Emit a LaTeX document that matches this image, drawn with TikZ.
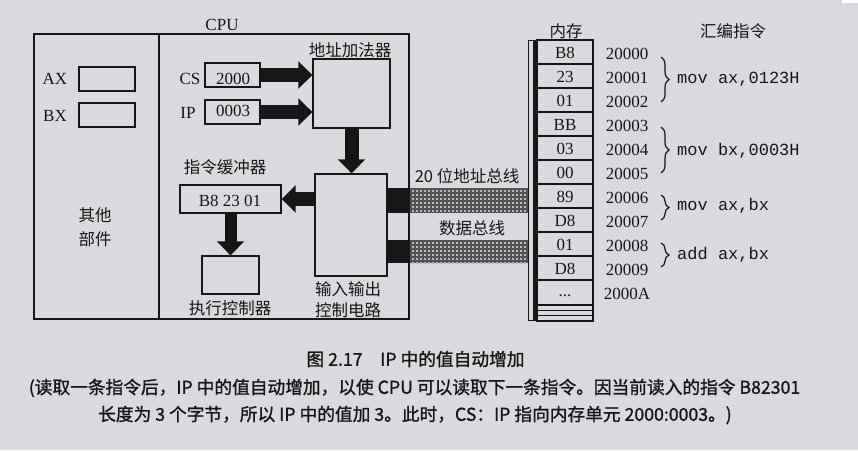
\documentclass[tikz,border=0pt]{standalone}
\usepackage{fontspec}
\setmainfont{Liberation Serif}
\newfontfamily\cjk{Noto Sans CJK SC}
\newfontfamily\capfont[FakeBold=1.2]{Noto Sans CJK SC}
\newfontfamily\monof{Liberation Mono}
\usetikzlibrary{arrows.meta,decorations.pathreplacing}
\definecolor{bg}{RGB}{216,218,221}
\definecolor{ink}{RGB}{22,22,22}
\begin{document}
\begin{tikzpicture}[x=1pt,y=-1pt,
  lat/.style={font=\fontsize{17}{20}\selectfont, inner sep=0pt, text=ink},
  zh/.style={font=\cjk\fontsize{16.5}{20}\selectfont, inner sep=0pt, text=ink},
  mono/.style={font=\monof\fontsize{17}{20}\selectfont, inner sep=0pt, anchor=west, text=ink},
  captxt/.style={font=\capfont\fontsize{17.7}{20}\selectfont, inner sep=0pt, text=ink},
  box/.style={draw=ink, line width=1.4pt, inner sep=0pt},
  blk/.style={draw=ink, line width=14pt, -{Triangle[width=27pt,length=14pt]}},
  cell/.style={draw=ink, line width=1.1pt, minimum width=56pt, minimum height=24pt, inner sep=0pt},
  busdot/.style={fill=gray!55},
  brc/.style={draw=ink, line width=1.2pt, decorate, decoration={brace, amplitude=8pt}}
]
\useasboundingbox (0,0) rectangle (858,450);
\fill[bg] (0,0) rectangle (858,450);
\fill[white] (842,0) rectangle (858,3);

% CPU outer box
\node[box, line width=1.5pt, minimum width=375pt, minimum height=285pt] (cpu) at (221.5,176.5) {};
\draw[ink, line width=1.3pt] (159,34) -- (159,319);
\node[lat] (cpulbl) at (222,25) {CPU};

% other parts
\node[lat] (axl) at (55,79) {AX};
\node[box, minimum width=56pt, minimum height=24pt] (ax) at (107,79) {};
\node[lat] (bxl) at (55,116) {BX};
\node[box, minimum width=56pt, minimum height=24pt] (bx) at (107,115) {};
\node[zh] (qt1) at (95,215) {其他};
\node[zh] (qt2) at (95,239) {部件};

% CS / IP
\node[lat] (csl) at (190,79) {CS};
\node[box, minimum width=55pt, minimum height=24pt] (cs) at (232.5,75) {};
\node[lat] (csv) at (233,79) {2000};
\node[lat] (ipl) at (188,113) {IP};
\node[box, minimum width=55pt, minimum height=24pt] (ip) at (232.5,112) {};
\node[lat] (ipv) at (233,111) {0003};

% address adder
\node[box, minimum width=77pt, minimum height=69pt] (adder) at (351.5,93.5) {};
\node[zh] (adderl) at (350,50) {地址加法器};

% IO circuit
\node[box, minimum width=72pt, minimum height=102pt] (io) at (351,225) {};
\node[zh] (io1) at (348,289) {输入输出};
\node[zh] (io2) at (348,310) {控制电路};

% instruction buffer
\node[box, minimum width=101pt, minimum height=28pt] (buf) at (230.5,199) {};
\node[lat] (bufv) at (230,201) {B8 23 01};
\node[zh] (bufl) at (225,167) {指令缓冲器};

% executor
\node[box, minimum width=57pt, minimum height=38pt] (exe) at (230.5,275) {};
\node[zh] (exel) at (230,308) {执行控制器};

% block arrows
\draw[blk] (cs.east) -- (cs.east -| adder.west);
\draw[blk] (ip.east) -- (ip.east -| adder.west);
\draw[blk] (adder.south) -- (adder.south |- io.north);
\draw[blk] (io.west |- buf.east) -- (buf.east);
\draw[blk, line width=12pt] (buf.south) -- (buf.south |- exe.north);

% buses
\fill[ink] (387,188) rectangle (409,213);
\fill[ink] (387,240) rectangle (409,263);
\fill[black!68] (410,188) rectangle (528,213);
\fill[black!68] (410,240) rectangle (528,263);
\foreach \yy in {190,194,...,210}{
  \foreach \xx in {412,416,...,526}{
    \fill[busdot] (\xx,\yy) rectangle ++(1.6,1.6);
    \fill[busdot] (\xx,\yy+52) rectangle ++(1.6,1.6);
  }
}
\node[zh] (abus) at (467,176) {20 位地址总线};
\node[zh] (dbus) at (472,228) {数据总线};

% memory
\node[zh] (meml) at (566,31) {内存};
\node[zh] (asml) at (733,31) {汇编指令};
\draw[ink, line width=0.9pt] (528,40) rectangle (537,320);
\draw[ink, line width=3pt] (534.5,40) -- (534.5,320);
\foreach \v [count=\i from 0] in {B8,23,01,BB,03,00,89,D8,01,D8}{
  \node[cell] (m\i) at (565,52+24*\i) {};
  \node[lat] (mv\i) at (565,53+24*\i) {\v};
}
\node[cell, minimum height=25pt] (m10) at (565,292.5) {};
\node[lat, anchor=base] (mv10) at (565,296) {...};
\draw[ink, line width=1.1pt] (537,305) rectangle (593,321);
\draw[ink, line width=1pt] (537,310) -- (593,310);
\draw[ink, line width=1pt] (537,315.5) -- (593,315.5);

\foreach \a [count=\i from 0] in {20000,20001,20002,20003,20004,20005,20006,20007,20008,20009,2000A}{
  \node[lat] (ad\i) at (627,54+24*\i) {\a};
}

% braces and instructions
\draw[brc] (661,57) -- (661,102);
\node[mono] (i1) at (677,79) {mov ax,0123H};
\draw[brc] (661,127) -- (661,173);
\node[mono] (i2) at (677,151) {mov bx,0003H};
\draw[brc] (661,195) -- (661,220);
\node[mono] (i3) at (677,206) {mov ax,bx};
\draw[brc] (661,243) -- (661,267);
\node[mono] (i4) at (677,255) {add ax,bx};

% caption
\node[captxt] (c1) at (415.5,359) {图 2.17\hspace{1em}IP 中的值自动增加};
\node[captxt] (c2) at (414.5,388) {(读取一条指令后，IP 中的值自动增加，以使 CPU 可以读取下一条指令。因当前读入的指令 B82301};
\node[captxt] (c3) at (415,415) {长度为 3 个字节，所以 IP 中的值加 3。此时，CS：IP 指向内存单元 2000:0003。)};
\end{tikzpicture}
\end{document}
